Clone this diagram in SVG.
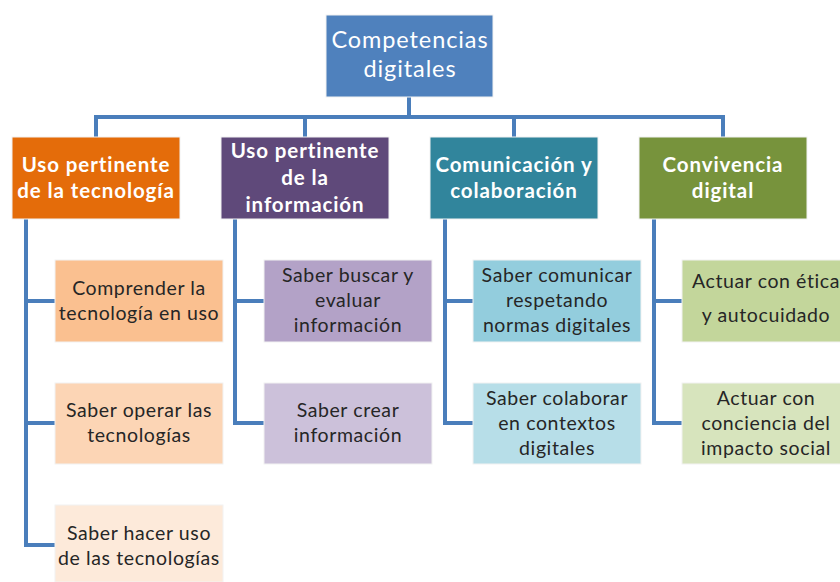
<svg xmlns="http://www.w3.org/2000/svg" width="840" height="582" viewBox="0 0 840 582">
<style>
text{font-family:Lato,"Open Sans","Liberation Sans",sans-serif;text-anchor:middle}
.root{font-size:23.5px;fill:#fff;letter-spacing:0.9px}
.l1{font-size:20.5px;font-weight:bold;fill:#fff;letter-spacing:0.9px}
.c{font-size:19.5px;fill:#262626;letter-spacing:0.6px}
.ln{fill:none;stroke:#4a7ebb;stroke-width:4;stroke-linejoin:miter}
.bx{stroke:#f2f2f2;stroke-width:1}
</style>
<rect width="840" height="582" fill="#fff"/>
<g id="connectors">
<path class="ln" d="M409 97V117M96 137V117H723V137M305 117V137M514 117V137"/>
<path class="ln" d="M26 219V545H55M26 301H55M26 423H55"/>
<path class="ln" d="M235 219V423H264M235 301H264"/>
<path class="ln" d="M445 219V423H473M445 301H473"/>
<path class="ln" d="M654 219V423H682M654 301H682"/>
</g>
<g id="root"><rect class="bx" x="326" y="15" width="167" height="82" fill="#4f81bd"/>
<text class="root" x="410" y="48">Competencias</text><text class="root" x="410" y="77">digitales</text></g>
<g id="n-tecnologia"><rect class="bx" x="12" y="137" width="168" height="82" fill="#e46c0a"/>
<text class="l1" x="96" y="172">Uso pertinente</text><text class="l1" x="96" y="198">de la tecnología</text></g>
<g id="n-informacion"><rect class="bx" x="221" y="137" width="168" height="82" fill="#5f497a"/>
<text class="l1" x="305" y="158">Uso pertinente</text><text class="l1" x="305" y="185">de la</text><text class="l1" x="305" y="212">información</text></g>
<g id="n-comunicacion"><rect class="bx" x="430" y="137" width="168" height="82" fill="#31859c"/>
<text class="l1" x="514" y="172">Comunicación y</text><text class="l1" x="514" y="198">colaboración</text></g>
<g id="n-convivencia"><rect class="bx" x="639" y="137" width="168" height="82" fill="#77933c"/>
<text class="l1" x="723" y="172">Convivencia</text><text class="l1" x="723" y="198">digital</text></g>
<g id="c-comprender"><rect class="bx" x="55" y="260" width="168" height="82" fill="#fac090"/>
<text class="c" x="139" y="295">Comprender la</text><text class="c" x="139" y="320">tecnología en uso</text></g>
<g id="c-operar"><rect class="bx" x="55" y="383" width="168" height="81" fill="#fcd5b5"/>
<text class="c" x="139" y="417">Saber operar las</text><text class="c" x="139" y="442">tecnologías</text></g>
<g id="c-hacer"><rect class="bx" x="55" y="505" width="168" height="77" fill="#fdeada"/>
<text class="c" x="139" y="540">Saber hacer uso</text><text class="c" x="139" y="565">de las tecnologías</text></g>
<g id="c-buscar"><rect class="bx" x="264" y="260" width="168" height="82" fill="#b3a2c7"/>
<text class="c" x="348" y="282">Saber buscar y</text><text class="c" x="348" y="307">evaluar</text><text class="c" x="348" y="332">información</text></g>
<g id="c-crear"><rect class="bx" x="264" y="383" width="168" height="81" fill="#ccc1da"/>
<text class="c" x="348" y="417">Saber crear</text><text class="c" x="348" y="442">información</text></g>
<g id="c-comunicar"><rect class="bx" x="473" y="260" width="168" height="82" fill="#93cddd"/>
<text class="c" x="557" y="282">Saber comunicar</text><text class="c" x="557" y="307">respetando</text><text class="c" x="557" y="332">normas digitales</text></g>
<g id="c-colaborar"><rect class="bx" x="473" y="383" width="168" height="81" fill="#b7dee8"/>
<text class="c" x="557" y="405">Saber colaborar</text><text class="c" x="557" y="430">en contextos</text><text class="c" x="557" y="455">digitales</text></g>
<g id="c-etica"><rect class="bx" x="682" y="260" width="168" height="82" fill="#c3d69b"/>
<text class="c" x="766" y="288">Actuar con ética</text><text class="c" x="766" y="322">y autocuidado</text></g>
<g id="c-impacto"><rect class="bx" x="682" y="383" width="168" height="81" fill="#d7e4bd"/>
<text class="c" x="766" y="405">Actuar con</text><text class="c" x="766" y="430">conciencia del</text><text class="c" x="766" y="455">impacto social</text></g>
</svg>
